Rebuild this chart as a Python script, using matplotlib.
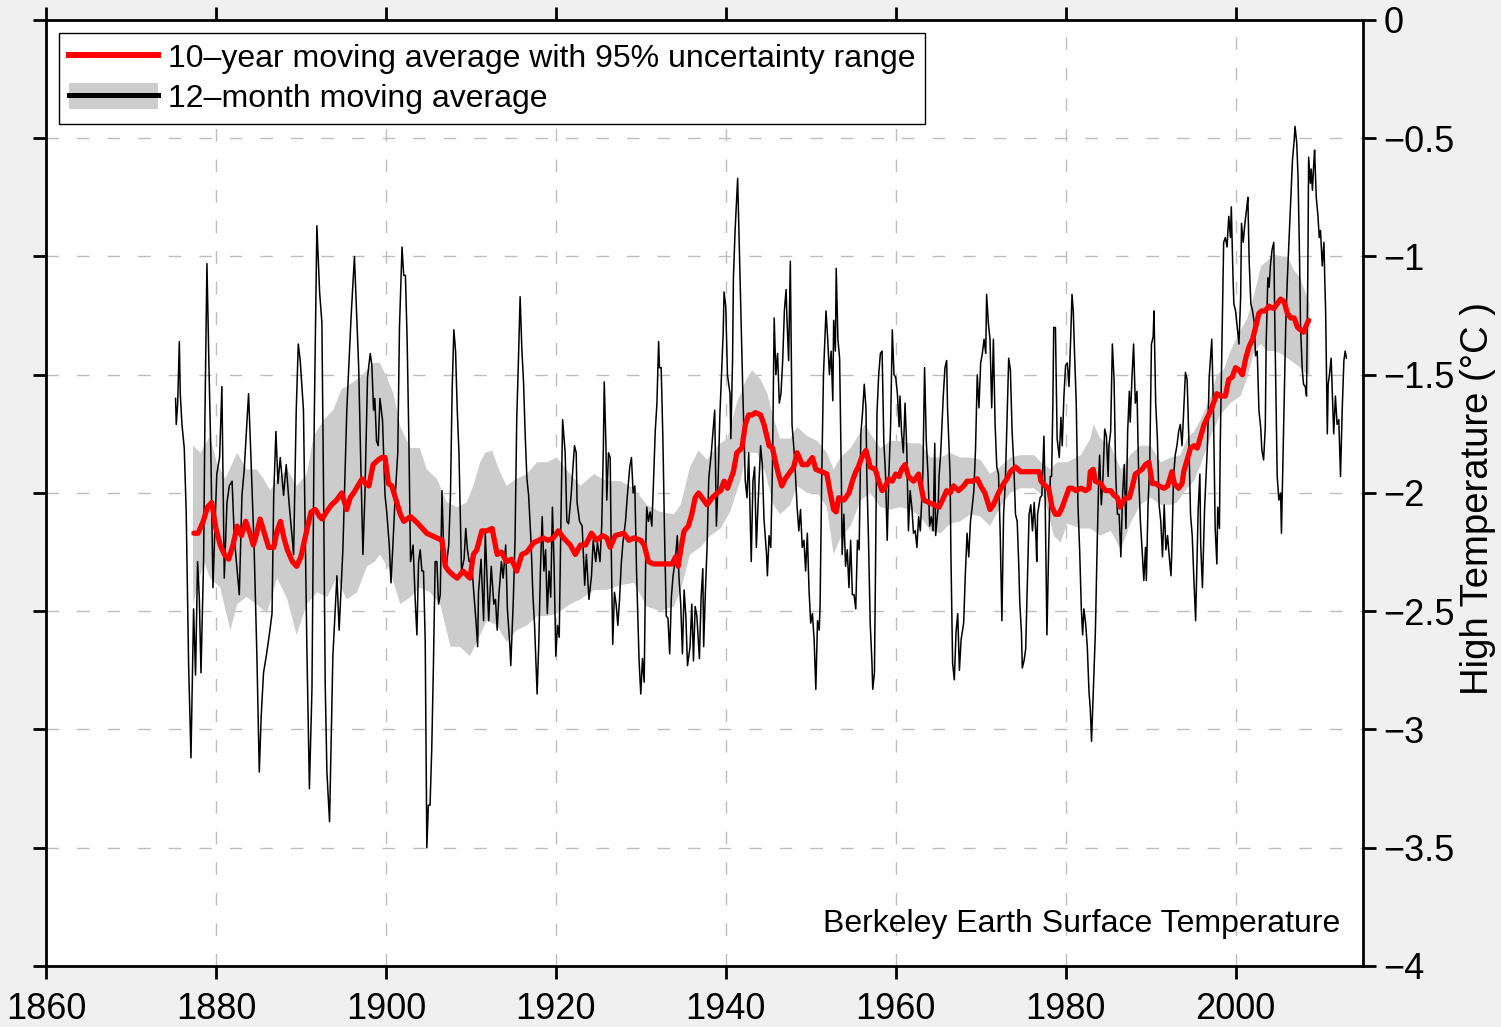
import numpy as np
import matplotlib
matplotlib.use("Agg")
import matplotlib.pyplot as plt
from matplotlib.lines import Line2D
from matplotlib.patches import Patch
from matplotlib.ticker import FuncFormatter

plt.rcParams['font.family'] = ['Liberation Sans', 'DejaVu Sans']

# 12-month moving average (black)
monthly_years = [
    1875.25, 1875.33, 1875.5, 1875.69, 1875.8, 1876.0, 1876.27, 1876.5, 1876.78, 1877.06,
    1877.37, 1877.6, 1877.84, 1878.04, 1878.24, 1878.55, 1878.7, 1878.94, 1879.18, 1879.4,
    1879.65, 1879.84, 1880.1, 1880.43, 1880.7, 1880.98, 1881.3, 1881.57, 1881.9, 1882.16,
    1882.75, 1883.06, 1883.33, 1883.84, 1884.1, 1884.5, 1884.82, 1885.1, 1885.33, 1885.6,
    1885.92, 1886.24, 1886.6, 1886.8, 1887.06, 1887.3, 1887.57, 1887.96, 1888.27, 1888.6,
    1889.14, 1889.45, 1889.69, 1889.92, 1890.3, 1890.7, 1891.0, 1891.3, 1891.57, 1891.88,
    1892.2, 1892.47, 1892.67, 1892.86, 1893.06, 1893.37, 1893.76, 1894.24, 1894.5, 1894.94,
    1895.4, 1895.9, 1896.3, 1896.8, 1897.06, 1897.3, 1897.53, 1897.84,
    1898.16, 1898.35, 1898.55, 1898.7, 1898.9, 1899.1, 1899.3, 1899.6, 1899.9, 1900.1,
    1900.4, 1900.6, 1900.8, 1901.1, 1901.4, 1901.6, 1901.9, 1902.1, 1902.3, 1902.5,
    1902.7, 1902.9, 1903.2, 1903.45, 1903.65, 1903.85, 1904.04, 1904.24, 1904.43, 1904.63,
    1904.82, 1905.0, 1905.2, 1905.4, 1905.6, 1905.8, 1906.0, 1906.2, 1906.4, 1906.6,
    1906.8, 1907.1, 1907.4, 1907.6, 1907.8, 1908.0, 1908.2, 1908.4, 1908.6, 1908.9,
    1909.2, 1909.4, 1909.6, 1909.8, 1910.1, 1910.3, 1910.6, 1910.8, 1910.9, 1911.2,
    1911.5, 1911.7, 1911.9, 1912.1, 1912.4, 1912.7, 1912.9, 1913.1, 1913.3, 1913.6,
    1913.8, 1914.1, 1914.3, 1914.6, 1914.7, 1915.0, 1915.2, 1915.4, 1915.6, 1915.8,
    1916.0, 1916.2, 1916.4, 1916.6, 1916.8, 1917.1, 1917.3, 1917.5, 1917.8, 1918.0,
    1918.2, 1918.4, 1918.6, 1918.8, 1919.0, 1919.2, 1919.4, 1919.6, 1919.8, 1920.0,
    1920.2, 1920.4, 1920.6, 1920.8, 1921.1, 1921.3, 1921.5, 1921.8, 1922.0, 1922.2,
    1922.4, 1922.5, 1922.8,
    1923.1, 1923.4, 1923.6, 1923.9, 1924.2, 1924.4, 1924.7, 1924.9, 1925.2, 1925.4,
    1925.6, 1925.7, 1925.9, 1926.0, 1926.2, 1926.4, 1926.5, 1926.7, 1926.9, 1927.1,
    1927.3, 1927.5, 1927.7, 1927.9, 1928.2, 1928.4, 1928.7, 1928.9, 1929.1, 1929.3,
    1929.5, 1929.8, 1930.0, 1930.2, 1930.4, 1930.6, 1930.7, 1930.9, 1931.1, 1931.3,
    1931.5, 1931.7, 1931.9, 1932.1, 1932.2, 1932.4, 1932.6, 1932.8, 1933.0, 1933.2,
    1933.4, 1933.6, 1933.8, 1934.1, 1934.3, 1934.5, 1934.7, 1934.9, 1935.1, 1935.3,
    1935.5, 1935.8, 1936.0, 1936.2, 1936.4, 1936.6, 1936.9, 1937.1, 1937.3, 1937.4,
    1937.6, 1937.8, 1938.0, 1938.3, 1938.5, 1938.7, 1938.9, 1939.1, 1939.3, 1939.5,
    1939.7, 1939.8, 1940.0, 1940.2, 1940.5, 1940.6, 1940.8, 1940.9, 1941.1, 1941.4,
    1941.6, 1941.8, 1942.0, 1942.3, 1942.5, 1942.7, 1942.9, 1943.0, 1943.2, 1943.4,
    1943.6, 1943.8, 1944.1, 1944.3, 1944.5, 1944.8, 1944.9, 1945.1, 1945.3, 1945.5,
    1945.7, 1945.9, 1946.1, 1946.3, 1946.5, 1946.7, 1946.9, 1947.1, 1947.2, 1947.4,
    1947.6,
    1947.8, 1948.1, 1948.4, 1948.6, 1948.8, 1949.0, 1949.2, 1949.4, 1949.6, 1949.8,
    1950.0, 1950.2, 1950.4, 1950.6, 1950.8, 1951.0, 1951.1, 1951.3, 1951.5, 1951.8,
    1952.0, 1952.2, 1952.4, 1952.6, 1952.7, 1952.9, 1953.0, 1953.2, 1953.4, 1953.6,
    1953.7, 1953.9, 1954.1, 1954.3, 1954.5, 1954.7, 1954.9, 1955.1, 1955.3, 1955.5,
    1955.7, 1955.9, 1956.1, 1956.3, 1956.5, 1956.6, 1956.8, 1957.0, 1957.2, 1957.3,
    1957.5, 1957.6, 1957.8, 1958.0, 1958.2, 1958.4, 1958.6, 1958.8, 1959.0, 1959.2,
    1959.4, 1959.6, 1959.8, 1960.0, 1960.2, 1960.4, 1960.5, 1960.7, 1960.9, 1961.1,
    1961.3, 1961.5, 1961.7, 1961.9, 1962.1, 1962.3, 1962.5, 1962.7, 1962.9, 1963.2,
    1963.4, 1963.6, 1963.8, 1964.0, 1964.2, 1964.4, 1964.6, 1964.7, 1965.0, 1965.1,
    1965.3, 1965.6, 1965.8, 1966.0, 1966.1, 1966.4, 1966.5, 1966.7, 1966.9, 1967.1,
    1967.3, 1967.5, 1967.7, 1968.0, 1968.2, 1968.4, 1968.6, 1968.8, 1969.0, 1969.2,
    1969.4, 1969.6, 1969.8, 1970.0, 1970.2, 1970.4, 1970.6, 1970.7, 1970.9, 1971.1,
    1971.3, 1971.5, 1971.7, 1971.9, 1972.1, 1972.3, 1972.5,
    1972.7, 1972.9, 1973.1, 1973.3, 1973.5, 1973.7, 1973.9, 1974.1, 1974.3, 1974.5,
    1974.6, 1974.8, 1974.9, 1975.1, 1975.3, 1975.4, 1975.6, 1975.7, 1975.9, 1976.1,
    1976.3, 1976.5, 1976.6, 1976.7, 1977.0, 1977.2, 1977.45, 1977.6, 1977.8, 1978.0,
    1978.2, 1978.35, 1978.5, 1978.6, 1978.8, 1979.0, 1979.25, 1979.45, 1979.6, 1979.8,
    1980.0, 1980.2, 1980.4, 1980.6, 1980.75, 1980.9, 1981.05, 1981.25, 1981.45, 1981.65,
    1981.85, 1982.0, 1982.15, 1982.35, 1982.55, 1982.75, 1982.9, 1983.05, 1983.2, 1983.35,
    1983.5, 1983.7, 1983.9, 1984.0, 1984.2, 1984.4, 1984.6, 1984.8, 1985.0, 1985.1,
    1985.3, 1985.5, 1985.7, 1985.9, 1986.1, 1986.3, 1986.5, 1986.7, 1986.9, 1987.1,
    1987.3, 1987.5, 1987.6, 1987.8, 1988.0, 1988.2, 1988.4, 1988.6, 1988.8, 1989.0,
    1989.2, 1989.4, 1989.5, 1989.7, 1989.9, 1990.1, 1990.3, 1990.4, 1990.6, 1990.8,
    1991.0, 1991.2, 1991.4, 1991.6, 1991.8, 1992.0, 1992.2, 1992.4, 1992.5, 1992.7,
    1992.9, 1993.1, 1993.3, 1993.5, 1993.7, 1993.9, 1994.1, 1994.3, 1994.5, 1994.7,
    1994.9, 1995.1, 1995.3,
    1995.6, 1995.8, 1995.9, 1996.1, 1996.35, 1996.7, 1996.9, 1997.1, 1997.2, 1997.4,
    1997.6, 1997.8, 1997.9, 1998.1, 1998.2, 1998.4, 1998.6, 1998.8, 1999.0, 1999.2,
    1999.4, 1999.5, 1999.7, 1999.8, 2000.0, 2000.2, 2000.4, 2000.6, 2000.7, 2000.9,
    2001.1, 2001.3, 2001.45, 2001.6, 2001.8, 2002.0, 2002.2, 2002.35, 2002.55, 2002.75,
    2002.95, 2003.1, 2003.3, 2003.5, 2003.6, 2003.8, 2003.95, 2004.1, 2004.3, 2004.5,
    2004.6, 2004.75, 2004.9, 2005.1, 2005.3, 2005.4, 2005.6, 2005.8, 2005.9, 2006.1,
    2006.3, 2006.5, 2006.7, 2006.9, 2007.0, 2007.2, 2007.35, 2007.5, 2007.65, 2007.85,
    2008.0, 2008.2, 2008.35, 2008.5, 2008.6, 2008.8, 2008.9, 2009.05, 2009.2, 2009.3,
    2009.5, 2009.7, 2009.85, 2010.0, 2010.2, 2010.4, 2010.5, 2010.6, 2010.8, 2010.9,
    2011.05, 2011.25, 2011.4, 2011.55, 2011.75, 2011.95, 2012.15, 2012.35, 2012.55, 2012.75,
    2012.9, 2013.05,
]
monthly_temp = [
    -1.60, -1.71, -1.62, -1.36, -1.58, -1.71, -1.81, -2.08, -2.72, -3.12,
    -2.49, -2.77, -2.29, -2.44, -2.76, -2.28, -1.69, -1.03, -1.47, -1.83,
    -2.40, -2.19, -1.92, -1.85, -1.55, -2.36, -2.04, -1.97, -1.95, -2.19,
    -2.43, -2.01, -1.90, -1.58, -1.83, -2.24, -2.69, -3.18, -2.94, -2.76,
    -2.69, -2.61, -2.51, -2.01, -1.74, -1.96, -1.85, -2.01, -1.88, -2.04,
    -2.26, -1.65, -1.37, -1.44, -1.65, -2.65, -3.25, -2.83, -1.69, -0.87,
    -1.15, -1.28, -2.01, -2.81, -3.18, -3.39, -2.69, -2.35, -2.58, -2.24,
    -1.65, -1.26, -1.00, -1.47, -1.90, -2.26, -2.01, -1.51,
    -1.41, -1.46, -1.65, -1.60, -1.78, -1.80, -1.60, -1.69, -2.01, -2.08,
    -2.22, -2.38, -2.24, -2.01, -1.83, -1.30, -0.96, -1.08, -1.08, -1.35,
    -1.76, -2.29, -2.22, -2.45, -2.60, -2.29, -2.24, -2.33, -2.33, -2.63,
    -3.50, -3.32, -3.32, -3.08, -2.72, -2.29, -2.29, -2.47, -2.43, -1.99,
    -2.24, -2.31, -2.22, -2.01, -1.56, -1.31, -1.40, -1.65, -1.83, -2.33,
    -2.28, -2.15, -2.24, -2.29, -2.29, -2.40, -2.54, -2.65, -2.42, -2.28,
    -2.54, -2.17, -2.36, -2.54, -2.31, -2.47, -2.45, -2.58, -2.43, -2.29,
    -2.36, -2.22, -2.49, -2.65, -2.73, -2.45, -2.20, -1.69, -1.44, -1.17,
    -1.39, -1.53, -1.76, -1.94, -2.01, -2.22, -2.43, -2.56, -2.85, -2.63,
    -2.31, -2.10, -2.33, -2.24, -2.51, -2.33, -2.44, -2.06, -2.31, -2.69,
    -2.56, -2.61, -2.12, -1.69, -1.83, -2.12, -2.13, -2.01, -1.90, -1.80,
    -1.83, -2.04, -2.12,
    -2.14, -2.39, -2.26, -2.45, -2.35, -2.20, -2.29, -2.21, -2.29, -2.14,
    -1.80, -1.53, -1.80, -2.03, -1.83, -1.85, -2.18, -2.64, -2.42, -2.47,
    -2.56, -2.45, -2.30, -2.21, -2.12, -2.02, -1.89, -1.85, -2.00, -1.97,
    -2.33, -2.71, -2.85, -2.70, -2.80, -2.21, -2.06, -2.12, -2.08, -2.14,
    -1.95, -1.74, -1.62, -1.36, -1.47, -1.47, -1.77, -2.18, -2.52, -2.53,
    -2.68, -2.44, -2.35, -2.27, -2.18, -2.36, -2.47, -2.68, -2.41, -2.52,
    -2.73, -2.65, -2.47, -2.71, -2.48, -2.52, -2.70, -2.44, -2.32, -2.65,
    -2.42, -2.23, -1.94, -1.83, -1.74, -1.65, -2.14, -1.95, -1.68, -1.50,
    -1.32, -1.15, -1.21, -1.50, -1.58, -1.77, -1.44, -1.09, -0.89, -0.67,
    -0.97, -1.27, -1.56, -1.95, -2.02, -1.83, -2.14, -2.29, -1.95, -1.89,
    -2.23, -2.05, -1.80, -1.88, -2.11, -2.26, -2.35, -2.18, -2.23, -1.88,
    -1.26, -1.50, -1.41, -1.62, -1.58, -1.44, -1.23, -1.14, -1.26, -1.44,
    -1.02,
    -1.71, -1.85, -2.06, -2.16, -2.07, -2.23, -2.20, -2.33, -2.17, -2.41,
    -2.55, -2.51, -2.62, -2.83, -2.54, -2.58, -2.48, -1.92, -1.50, -1.23,
    -1.35, -1.50, -1.40, -1.61, -1.27, -1.40, -1.05, -1.35, -1.43, -1.92,
    -2.26, -2.09, -2.31, -2.24, -2.40, -2.20, -2.43, -2.43, -2.49, -2.20,
    -2.24, -1.75, -1.66, -1.54, -1.64, -1.92, -2.20, -2.55, -2.71, -2.83,
    -2.76, -2.41, -1.66, -1.50, -1.41, -1.40, -1.78, -1.92, -2.20, -1.92,
    -1.72, -1.31, -1.50, -1.51, -1.58, -1.72, -1.59, -1.75, -1.83, -1.62,
    -1.81, -2.16, -1.99, -2.06, -2.17, -2.16, -2.23, -2.10, -2.16, -1.92,
    -1.47, -1.78, -1.92, -2.14, -2.10, -2.16, -1.79, -2.18, -2.06, -1.93,
    -1.83, -1.59, -1.47, -1.44, -1.64, -1.92, -2.26, -2.72, -2.79, -2.59,
    -2.51, -2.75, -2.62, -2.55, -2.34, -2.17, -2.27, -2.12, -2.06, -1.99,
    -1.81, -1.50, -1.64, -1.45, -1.41, -1.35, -1.41, -1.16, -1.28, -1.35,
    -1.64, -1.35, -1.71, -1.89, -1.92, -2.17, -2.54,
    -2.09, -1.96, -1.70, -1.43, -1.48, -1.74, -1.88, -2.09, -2.12, -2.32,
    -2.46, -2.59, -2.74, -2.71, -2.66, -2.52, -2.24, -2.09, -2.05, -2.16,
    -2.04, -2.18, -2.29, -2.09, -2.02, -2.01, -1.76, -2.05, -2.60, -2.24,
    -1.93, -1.93, -1.62, -1.30, -1.30, -1.77, -1.85, -1.68, -1.80, -1.59,
    -1.46, -1.45, -1.55, -1.34, -1.16, -1.23, -1.41, -1.62, -2.05, -2.24,
    -2.49, -2.60, -2.49, -2.55, -2.65, -2.84, -2.91, -3.05, -2.90, -2.76,
    -2.59, -2.24, -1.93, -1.84, -2.05, -1.93, -1.73, -1.76, -1.93, -1.80,
    -1.74, -1.37, -1.52, -1.93, -2.09, -2.09, -2.27, -2.01, -1.88, -2.15,
    -1.74, -1.57, -1.70, -1.52, -1.37, -1.62, -1.57, -1.93, -2.12, -2.24,
    -2.37, -2.23, -2.37, -2.05, -1.88, -1.37, -1.34, -1.23, -1.62, -1.77,
    -2.05, -2.12, -2.27, -2.05, -2.24, -2.18, -2.27, -2.35, -2.24, -1.93,
    -1.84, -1.80, -1.74, -1.71, -1.80, -1.65, -1.49, -1.52, -1.77, -2.09,
    -2.18, -2.37, -2.54,
    -2.07, -1.92, -2.22, -2.40, -2.07, -1.79, -1.51, -1.40, -1.35, -1.65,
    -2.15, -2.30, -2.06, -2.15, -1.79, -1.37, -0.94, -0.92, -0.96, -0.83,
    -0.92, -0.79, -1.09, -1.20, -1.23, -1.30, -1.37, -1.17, -0.86, -0.94,
    -0.86, -0.80, -0.75, -1.02, -1.20, -1.23, -1.28, -1.42, -1.40, -1.65,
    -1.72, -1.82, -1.86, -1.72, -1.37, -1.09, -1.13, -1.04, -0.97, -0.94,
    -1.23, -1.58, -1.93, -2.03, -2.00, -2.17, -1.82, -1.48, -1.30, -1.09,
    -0.92, -0.76, -0.59, -0.51, -0.45, -0.52, -0.66, -0.94, -1.30, -1.48,
    -1.54, -1.55, -1.59, -1.09, -0.58, -0.69, -0.63, -0.72, -0.61, -0.55,
    -0.75, -0.83, -0.92, -0.89, -1.04, -0.94, -1.10, -1.23, -1.75, -1.54,
    -1.50, -1.43, -1.59, -1.75, -1.59, -1.71, -1.69, -1.93, -1.65, -1.44,
    -1.40, -1.43,
]

# 10-year moving average (red)
decadal_years = [
    1877.4, 1877.9, 1878.5, 1879.0, 1879.5, 1880.0, 1880.5, 1881.0, 1881.5, 1882.0,
    1882.5, 1883.0, 1883.5, 1884.0, 1884.4, 1884.8, 1885.2, 1885.7, 1886.2, 1886.8,
    1887.2, 1887.6, 1888.0, 1888.4, 1889.0, 1889.5, 1890.0, 1890.3, 1890.8, 1891.2,
    1891.7, 1892.2, 1892.5, 1893.0, 1893.6, 1894.2, 1894.8, 1895.4, 1895.8, 1896.2,
    1896.7, 1897.2, 1897.6, 1898.0, 1898.5, 1899.1, 1899.5, 1899.9, 1900.3, 1900.7,
    1901.2, 1901.7, 1902.1, 1902.9, 1903.8, 1904.8, 1905.4, 1906.0, 1906.6, 1907.0,
    1907.4, 1908.0, 1908.4, 1909.1, 1909.6, 1909.9, 1910.3, 1910.7, 1911.3, 1911.9,
    1912.5, 1913.1, 1913.6, 1914.2, 1914.8, 1915.4, 1916.0, 1916.6, 1917.4, 1918.0,
    1918.5, 1919.1, 1919.7, 1920.3, 1920.9, 1921.7, 1922.3, 1922.9, 1923.5, 1924.2,
    1924.8, 1925.5, 1926.0, 1926.4, 1927.0, 1928.0, 1928.6, 1929.2, 1930.0, 1930.4,
    1930.9, 1931.5, 1932.3, 1933.1, 1933.7, 1934.1, 1934.4, 1934.7, 1935.1, 1935.6,
    1936.0, 1936.4, 1936.8, 1937.4, 1937.8, 1938.4, 1939.0, 1939.4, 1939.8, 1940.2,
    1940.5, 1940.9, 1941.3, 1941.9, 1942.3, 1942.7, 1943.1, 1943.5, 1944.1, 1944.5,
    1945.1, 1945.5, 1945.8, 1946.2, 1946.6, 1947.0, 1947.4, 1948.0, 1948.4, 1949.0,
    1949.6, 1950.2, 1950.6, 1951.3, 1951.9, 1952.3, 1952.7, 1953.0, 1953.3, 1953.9,
    1954.5, 1954.9, 1955.3, 1955.6, 1956.0, 1956.5, 1957.0, 1957.6, 1958.0, 1958.4,
    1958.8, 1959.2, 1959.6, 1960.0, 1960.4, 1960.7, 1961.1, 1961.5, 1962.1, 1962.7,
    1963.3, 1963.9, 1964.5, 1965.1, 1965.5, 1966.0, 1966.4, 1966.8, 1967.4, 1968.0,
    1968.4, 1969.0, 1969.6, 1970.0, 1970.5, 1971.1, 1971.5, 1972.1, 1972.7, 1973.1,
    1973.5, 1974.1, 1974.7, 1975.3, 1975.9, 1976.5, 1976.9, 1977.1, 1977.6, 1978.0,
    1978.4, 1978.8, 1979.2, 1979.6, 1980.0, 1980.4, 1980.8, 1981.2, 1981.8, 1982.35,
    1982.75, 1982.9, 1983.25, 1983.5, 1984.1, 1984.7, 1985.3, 1985.7, 1986.1, 1986.4,
    1986.7, 1987.1, 1987.5, 1987.8, 1988.2, 1988.6, 1989.0, 1989.4, 1989.8, 1990.2,
    1990.6, 1991.0, 1991.6, 1992.0, 1992.35, 1992.5, 1992.8, 1993.3, 1993.7, 1993.9,
    1994.3, 1994.7, 1995.1, 1995.5, 1995.9, 1996.3, 1996.7, 1997.1, 1997.5, 1997.8,
    1998.2, 1998.8, 1999.2, 1999.6, 2000.0, 2000.4, 2000.8, 2001.2, 2001.6, 2002.0,
    2002.35, 2002.75, 2003.1, 2003.5, 2003.9, 2004.5, 2004.9, 2005.3, 2005.7, 2006.1,
    2006.5, 2006.9, 2007.3, 2007.65, 2008.0, 2008.35, 2008.6,
]
decadal_temp = [
    -2.17, -2.17, -2.12, -2.06, -2.04, -2.15, -2.22, -2.26, -2.28, -2.22,
    -2.14, -2.18, -2.12, -2.17, -2.22, -2.17, -2.11, -2.17, -2.23, -2.23,
    -2.16, -2.12, -2.19, -2.24, -2.29, -2.31, -2.27, -2.22, -2.14, -2.08,
    -2.07, -2.10, -2.11, -2.08, -2.05, -2.03, -2.00, -2.07, -2.02, -2.00,
    -1.97, -1.94, -1.96, -1.97, -1.88, -1.86, -1.85, -1.85, -1.96, -1.97,
    -2.03, -2.09, -2.12, -2.10, -2.13, -2.17, -2.18, -2.19, -2.20, -2.31,
    -2.33, -2.35, -2.36, -2.33, -2.35, -2.36, -2.26, -2.24, -2.16, -2.16,
    -2.15, -2.26, -2.25, -2.29, -2.28, -2.33, -2.26, -2.25, -2.21, -2.20,
    -2.19, -2.20, -2.19, -2.16, -2.19, -2.22, -2.26, -2.22, -2.22, -2.17,
    -2.20, -2.18, -2.19, -2.23, -2.18, -2.17, -2.20, -2.19, -2.20, -2.22,
    -2.29, -2.30, -2.30, -2.30, -2.30, -2.27, -2.31, -2.24, -2.16, -2.14,
    -2.09, -2.02, -2.00, -2.03, -2.05, -2.02, -2.00, -1.99, -1.95, -1.98,
    -1.95, -1.91, -1.83, -1.81, -1.71, -1.67, -1.67, -1.66, -1.67, -1.71,
    -1.80, -1.81, -1.86, -1.92, -1.97, -1.94, -1.92, -1.89, -1.83, -1.88,
    -1.88, -1.85, -1.90, -1.91, -1.92, -2.00, -2.07, -2.08, -2.02, -2.03,
    -2.00, -1.95, -1.91, -1.89, -1.85, -1.82, -1.89, -1.90, -1.95, -1.99,
    -1.97, -1.94, -1.95, -1.92, -1.93, -1.90, -1.88, -1.93, -1.95, -1.92,
    -2.03, -2.04, -2.05, -2.06, -2.03, -1.99, -2.00, -1.97, -1.99, -1.97,
    -1.95, -1.95, -1.94, -1.97, -2.00, -2.07, -2.05, -2.00, -1.96, -1.94,
    -1.91, -1.89, -1.91, -1.91, -1.91, -1.91, -1.91, -1.95, -1.97, -1.98,
    -2.06, -2.09, -2.09, -2.06, -2.02, -1.98, -1.98, -1.99, -1.98, -1.99,
    -1.98, -1.91, -1.90, -1.95, -1.96, -1.99, -1.99, -2.01, -2.02, -2.06,
    -2.04, -2.02, -2.02, -1.98, -1.92, -1.91, -1.90, -1.88, -1.87, -1.96,
    -1.96, -1.97, -1.98, -1.97, -1.93, -1.91, -1.96, -1.98, -1.96, -1.91,
    -1.86, -1.81, -1.80, -1.81, -1.76, -1.71, -1.68, -1.65, -1.61, -1.58,
    -1.59, -1.59, -1.52, -1.51, -1.47, -1.48, -1.50, -1.43, -1.38, -1.35,
    -1.30, -1.24, -1.23, -1.23, -1.21, -1.22, -1.20, -1.18, -1.19, -1.24,
    -1.26, -1.26, -1.30, -1.31, -1.32, -1.29, -1.27,
]

# 95% uncertainty range, upper and lower edges
band_hi_years = [
    1877.3, 1878.2, 1879.3, 1880.1, 1881.1, 1882.5, 1883.6, 1884.8, 1885.6, 1886.4,
    1887.2, 1888.4, 1889.5, 1890.7, 1891.5, 1892.7, 1893.8, 1894.8, 1895.4, 1896.2,
    1897.0, 1897.8, 1898.5, 1899.3, 1900.1, 1900.9, 1901.7, 1902.9, 1904.0, 1904.8,
    1906.0, 1907.2, 1908.4, 1909.5, 1910.3, 1911.1, 1911.7, 1912.5, 1913.3, 1914.2,
    1915.4, 1916.6, 1917.8, 1919.0, 1920.1, 1921.7, 1922.9, 1924.5, 1926.0, 1927.6,
    1929.2, 1930.7, 1932.3, 1933.9, 1934.7, 1935.8, 1936.8, 1937.8, 1939.0, 1940.2,
    1941.3, 1942.3, 1943.1, 1944.1, 1944.9, 1945.6, 1946.4, 1947.6, 1948.4, 1949.6,
    1950.8, 1951.9, 1952.7, 1953.5, 1954.7, 1955.9, 1956.4, 1957.2, 1958.2, 1959.4,
    1960.5, 1961.7, 1962.9, 1964.1, 1965.3, 1966.4, 1967.6, 1968.8, 1970.0, 1971.1,
    1972.3, 1973.5, 1974.7, 1976.3, 1977.1, 1978.2, 1979.0, 1980.2, 1981.8, 1982.9,
    1983.3, 1984.1, 1985.3, 1986.5, 1987.6, 1988.8, 1990.0, 1991.2, 1992.4, 1993.5,
    1994.3, 1995.1, 1995.9, 1997.1, 1997.8, 1998.6, 1999.4, 2000.2, 2001.4, 2002.2,
    2003.0, 2003.7, 2004.5, 2005.3, 2006.1, 2006.9, 2007.6, 2008.4, 2008.7,
]
band_hi = [
    -1.80, -1.83, -1.76, -1.87, -1.94, -1.83, -1.90, -1.90, -1.94, -1.99,
    -1.94, -1.90, -1.97, -1.92, -1.76, -1.69, -1.65, -1.56, -1.55, -1.53,
    -1.51, -1.48, -1.45, -1.45, -1.51, -1.58, -1.72, -1.81, -1.81, -1.90,
    -1.94, -2.04, -2.06, -2.04, -1.97, -1.87, -1.83, -1.82, -1.90, -1.97,
    -1.94, -1.92, -1.87, -1.87, -1.85, -1.92, -1.97, -1.92, -1.95, -1.95,
    -1.98, -2.05, -2.08, -2.09, -2.05, -1.89, -1.82, -1.86, -1.80, -1.77,
    -1.62, -1.53, -1.48, -1.52, -1.58, -1.68, -1.77, -1.77, -1.72, -1.76,
    -1.78, -1.83, -1.90, -1.85, -1.81, -1.74, -1.71, -1.76, -1.81, -1.78,
    -1.78, -1.79, -1.79, -1.85, -1.85, -1.83, -1.85, -1.85, -1.86, -1.92,
    -1.89, -1.85, -1.84, -1.84, -1.87, -1.90, -1.87, -1.87, -1.84, -1.77,
    -1.71, -1.77, -1.80, -1.90, -1.84, -1.80, -1.80, -1.87, -1.85, -1.84,
    -1.77, -1.74, -1.69, -1.59, -1.50, -1.48, -1.40, -1.34, -1.26, -1.16,
    -1.04, -1.02, -0.99, -1.00, -1.00, -1.06, -1.09, -1.17, -1.20,
]
band_lo_years = [
    1877.3, 1878.6, 1879.3, 1880.5, 1881.7, 1882.5, 1883.6, 1884.8, 1886.0, 1887.2,
    1888.4, 1889.5, 1890.7, 1891.9, 1893.1, 1894.2, 1895.4, 1896.6, 1897.8, 1898.7,
    1899.3, 1900.5, 1901.7, 1902.9, 1904.0, 1905.2, 1906.4, 1907.6, 1908.7, 1909.9,
    1910.7, 1911.9, 1913.1, 1914.2, 1915.4, 1916.6, 1917.8, 1919.0, 1920.1, 1921.7,
    1922.9, 1924.5, 1926.0, 1927.6, 1929.2, 1930.7, 1932.3, 1933.9, 1934.7, 1935.8,
    1937.0, 1938.2, 1939.4, 1940.5, 1941.7, 1942.5, 1943.7, 1944.7, 1945.6, 1946.4,
    1947.6, 1948.4, 1949.6, 1950.8, 1951.9, 1952.7, 1953.5, 1954.7, 1955.9, 1957.0,
    1958.2, 1959.4, 1960.5, 1961.7, 1962.9, 1964.1, 1965.3, 1966.4, 1967.6, 1968.8,
    1970.0, 1971.1, 1972.3, 1973.5, 1974.7, 1976.3, 1977.5, 1978.6, 1979.4, 1980.2,
    1981.8, 1982.9, 1984.1, 1985.3, 1986.5, 1987.6, 1988.8, 1990.0, 1991.2, 1992.4,
    1993.1, 1994.3, 1995.1, 1995.9, 1997.1, 1998.2, 1999.4, 2000.6, 2001.4, 2002.2,
    2003.0, 2003.7, 2004.5, 2005.3, 2006.1, 2006.9, 2007.6, 2008.4, 2008.7,
]
band_lo = [
    -2.47, -2.29, -2.36, -2.40, -2.58, -2.47, -2.44, -2.47, -2.51, -2.36,
    -2.45, -2.60, -2.47, -2.42, -2.44, -2.36, -2.45, -2.42, -2.31, -2.29,
    -2.26, -2.33, -2.47, -2.44, -2.40, -2.42, -2.47, -2.65, -2.65, -2.69,
    -2.63, -2.54, -2.56, -2.63, -2.58, -2.56, -2.52, -2.52, -2.51, -2.47,
    -2.45, -2.41, -2.41, -2.39, -2.38, -2.48, -2.50, -2.48, -2.41, -2.26,
    -2.23, -2.18, -2.15, -2.08, -1.95, -1.83, -1.83, -1.92, -2.05, -2.09,
    -2.05, -1.97, -2.00, -2.00, -2.06, -2.26, -2.19, -2.14, -2.03, -2.00,
    -2.06, -2.07, -2.06, -2.07, -2.10, -2.16, -2.17, -2.13, -2.12, -2.09,
    -2.10, -2.14, -2.06, -2.00, -1.98, -1.98, -2.02, -2.18, -2.21, -2.13,
    -2.15, -2.15, -2.18, -2.16, -2.24, -2.13, -2.05, -2.02, -2.05, -2.05,
    -2.04, -1.98, -1.95, -1.88, -1.76, -1.67, -1.62, -1.59, -1.51, -1.40,
    -1.37, -1.40, -1.40, -1.41, -1.43, -1.45, -1.47, -1.50, -1.50,
]

x_ticks = [1860, 1880, 1900, 1920, 1940, 1960, 1980, 2000]
y_ticks = [0, -0.5, -1, -1.5, -2, -2.5, -3, -3.5, -4]

fig = plt.figure(figsize=(15.01, 10.27), dpi=100, facecolor='#f0f0f0')
ax = fig.add_axes([0.03065, 0.0594, 0.87742, 0.92113])
ax.set_facecolor('white')

# uncertainty band as a polygon: upper edge then lower edge reversed
poly_x = np.concatenate([band_hi_years, band_lo_years[::-1]])
poly_y = np.concatenate([band_hi, band_lo[::-1]])
ax.fill(poly_x, poly_y, color='#cccccc', lw=0, zorder=1)

ax.plot(monthly_years, monthly_temp, color='black', lw=1.1, zorder=2)
ax.plot(decadal_years, decadal_temp, color='#ff0000', lw=3.8, zorder=3,
        solid_capstyle='round')

ax.set_xlim(1860, 2015)
ax.set_ylim(-4, 0)
ax.set_xticks(x_ticks)
ax.set_yticks(y_ticks)
ax.yaxis.set_major_formatter(FuncFormatter(lambda v, p: ('%g' % v).replace('-', '\u2212')))

ax.set_axisbelow(True)
ax.grid(True, color='#bdbdbd', linestyle=(0, (9, 13)), linewidth=1.0)

for s in ax.spines.values():
    s.set_linewidth(2)
ax.tick_params(axis='both', direction='out', length=9.5, width=2, labelsize=26,
               top=True, bottom=True, left=True, right=True,
               labelleft=False, labelright=True, labeltop=False)
ax.tick_params(axis='x', pad=9)
ax.tick_params(axis='y', pad=5)

# legend with proxy handles
red_h = Line2D([], [], color='#ff0000', lw=4.3)
gray_h = (Patch(facecolor='#cccccc', edgecolor='none'), Line2D([], [], color='black', lw=3.6))
leg = ax.legend([red_h, gray_h],
                ['10\u2013year moving average with 95% uncertainty range',
                 '12\u2013month moving average'],
                loc='upper left', bbox_to_anchor=(0.0099, 0.9863), borderaxespad=0,
                fontsize=23, handlelength=2.8, handleheight=0.9, handletextpad=0.3,
                borderpad=0.3, labelspacing=0.28, fancybox=False, framealpha=1)
leg.get_frame().set_edgecolor('black')
leg.get_frame().set_linewidth(1.0)

ax.text(0.983, 0.044, 'Berkeley Earth Surface Temperature', transform=ax.transAxes,
        ha='right', va='center', fontsize=23)

fig.text(0.9847, 0.515, 'High Temperature (\u00b0C )', rotation=90,
         ha='center', va='center', fontsize=27.5)

fig.savefig('out.png', dpi=100, facecolor=fig.get_facecolor())
